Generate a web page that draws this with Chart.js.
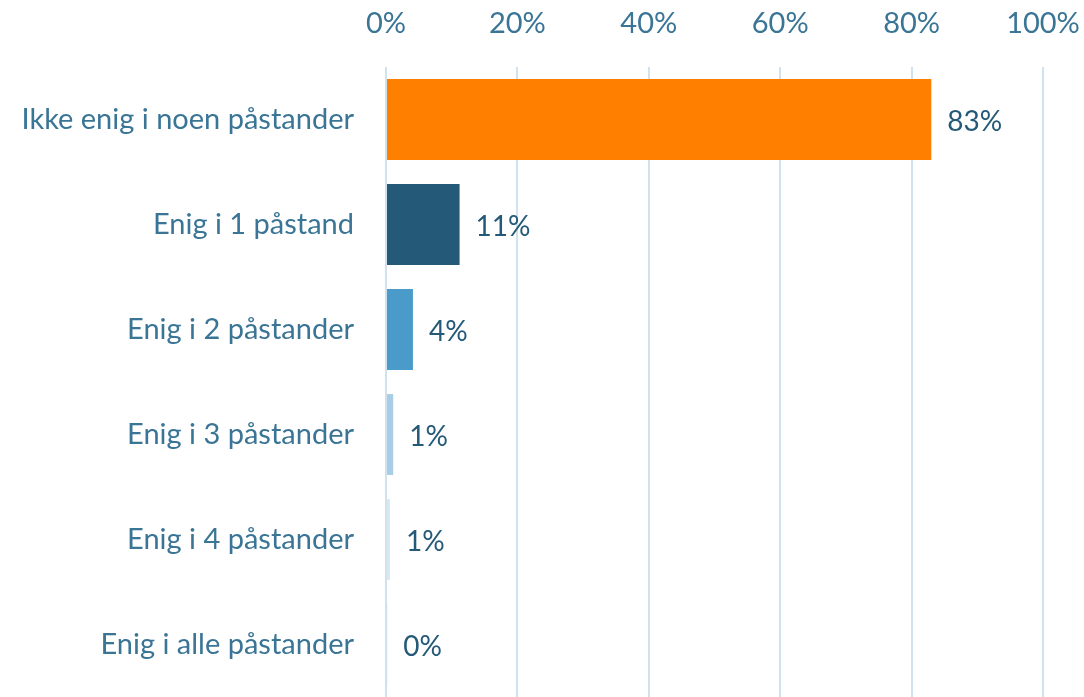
<!DOCTYPE html>
<html>
<head>
<meta charset="utf-8">
<script src="https://cdn.jsdelivr.net/npm/chart.js@4"></script>
<style>
  html, body { margin: 0; padding: 0; background: #fff; overflow: hidden; }
  #wrap { width: 1084px; height: 697px; }
</style>
</head>
<body>
<div id="wrap"><canvas id="chart"></canvas></div>
<script>
// Data
const categories = [
  'Ikke enig i noen påstander',
  'Enig i 1 påstand',
  'Enig i 2 påstander',
  'Enig i 3 påstander',
  'Enig i 4 påstander',
  'Enig i alle påstander'
];
const values = [83, 11.2, 4.1, 1.1, 0.6, 0.2];
const valueLabels = ['83%', '11%', '4%', '1%', '1%', '0%'];
const xTicks = [0, 20, 40, 60, 80, 100];
const barColors = ['#ff7f00', '#245a78', '#4a9bc9', '#a8cde4', '#d8e8f2', '#c6e4f4'];

const fontFamily = 'Lato, "Open Sans", sans-serif';

// Draw value labels next to bars
const valueLabelPlugin = {
  id: 'valueLabels',
  afterDatasetsDraw(chart) {
    const ctx = chart.ctx;
    const meta = chart.getDatasetMeta(0);
    ctx.save();
    ctx.font = '28px ' + fontFamily;
    ctx.fillStyle = '#245a78';
    ctx.textAlign = 'left';
    ctx.textBaseline = 'middle';
    meta.data.forEach((bar, i) => {
      ctx.fillText(valueLabels[i], bar.x + 16, bar.y + 2);
    });
    ctx.restore();
  }
};

new Chart(document.getElementById('chart'), {
  type: 'bar',
  data: {
    labels: categories,
    datasets: [{
      data: values,
      backgroundColor: barColors,
      barPercentage: 0.77,
      categoryPercentage: 1
    }]
  },
  options: {
    indexAxis: 'y',
    responsive: true,
    maintainAspectRatio: false,
    animation: false,
    layout: { padding: { left: 0, right: 41, top: 0, bottom: 0 } },
    plugins: {
      legend: { display: false },
      tooltip: { enabled: false }
    },
    scales: {
      x: {
        position: 'top',
        min: 0,
        max: 100,
        afterBuildTicks(scale) {
          scale.ticks = xTicks.map(v => ({ value: v }));
        },
        afterFit(scale) {
          scale.height = 67;
          scale.paddingLeft = 0;
          scale.paddingRight = 0;
        },
        grid: { color: '#d0e2ee', lineWidth: 2, drawTicks: false },
        border: { display: false },
        ticks: {
          color: '#3a7596',
          font: { family: fontFamily, size: 29 },
          padding: 26,
          maxRotation: 0,
          callback: v => v + '%'
        }
      },
      y: {
        grid: { display: false },
        border: { display: false },
        afterFit(scale) {
          scale.width = 386;
          scale.paddingTop = 0;
          scale.paddingBottom = 0;
        },
        ticks: {
          color: '#3a7596',
          font: { family: fontFamily, size: 29 },
          padding: 24
        }
      }
    }
  },
  plugins: [valueLabelPlugin]
});
</script>
</body>
</html>
